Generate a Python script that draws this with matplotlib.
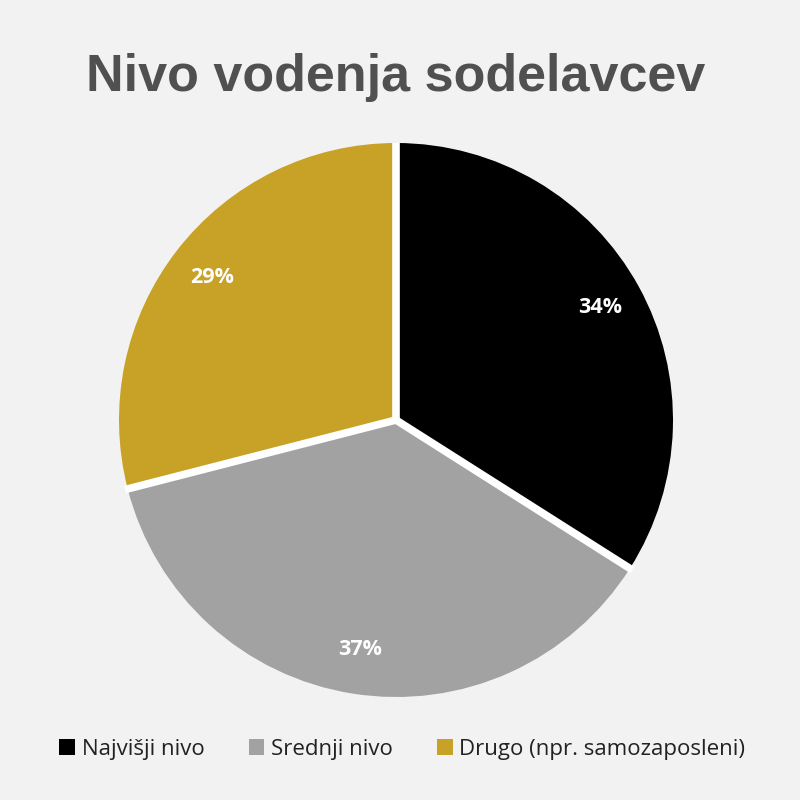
import matplotlib
matplotlib.use("Agg")
import numpy as np
import matplotlib.pyplot as plt
from matplotlib.patches import Patch

title = "Nivo vodenja sodelavcev"
categories = ["Najvišji nivo", "Srednji nivo", "Drugo (npr. samozaposleni)"]
values = [34, 37, 29]
colors = ["#000000", "#a2a2a2", "#c8a226"]

bg = "#f2f2f2"
fig = plt.figure(figsize=(8, 8), dpi=100, facecolor=bg)

cx, cy, r = 396 / 800, 1 - 420 / 800, 277 / 800
ax = fig.add_axes([cx - r, cy - r, 2 * r, 2 * r])
ax.set_facecolor(bg)
wedges, texts, autotexts = ax.pie(
    values, colors=colors, startangle=90, counterclock=False, radius=1,
    autopct=lambda p: f"{p:.0f}%", pctdistance=0.84,
    wedgeprops=dict(edgecolor="none", linewidth=0),
    textprops=dict(color="white", fontsize=15.5, fontweight="bold", family="Open Sans"),
)
# white separators along each wedge boundary
for w in wedges:
    a = np.deg2rad(w.theta1)
    ax.plot([0, 1.01 * np.cos(a)], [0, 1.01 * np.sin(a)], color="white", lw=5.5,
            solid_capstyle="butt", zorder=3)
ax.set_xlim(-1, 1)
ax.set_ylim(-1, 1)
ax.set_aspect("equal")
ax.axis("off")

fig.text(0.494, 1 - 77 / 800, title, ha="center", va="center", fontsize=37.5,
         fontweight="bold", color="#505050", family="Liberation Sans")

handles = [Patch(facecolor=c, edgecolor="none") for c in colors]
fig.legend(handles, categories, loc="center", bbox_to_anchor=(0.503, 1 - 749 / 800),
           ncol=3, frameon=False, handlelength=0.7, handleheight=0.7,
           handletextpad=0.3, columnspacing=2.0,
           prop=dict(family="Open Sans", size=16), labelcolor="#222222")

fig.savefig("out.png", dpi=100, facecolor=bg)
